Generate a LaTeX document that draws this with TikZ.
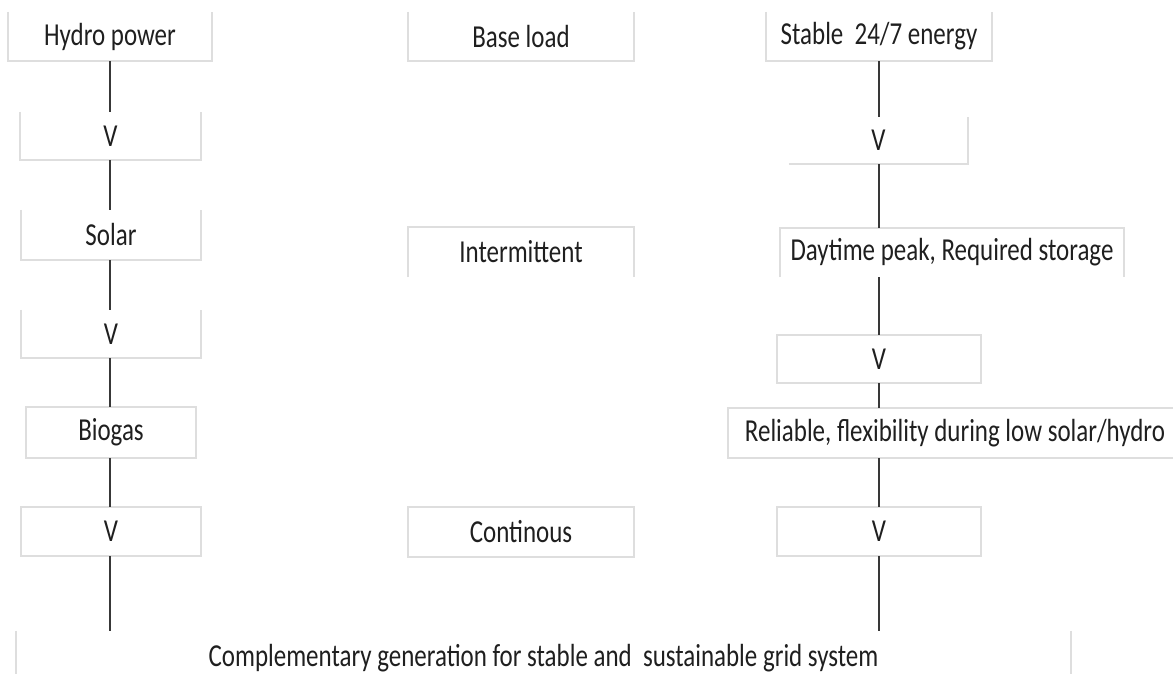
\documentclass[tikz,border=0pt]{standalone}
\usepackage{fontspec}
\setmainfont[FakeStretch=0.78]{Carlito}
\begin{document}
\begin{tikzpicture}[x=1pt,y=-1pt,
  box/.style={draw=none,inner sep=0pt,text=black!88,font=\fontsize{32}{36}\selectfont},
  edge/.style={draw=black!13,line width=1.6pt},
  link/.style={draw=black!78,line width=1.8pt}]
\useasboundingbox (0,0) rectangle (1173,674);
% left column
\node[box,minimum width=204pt,minimum height=49pt] (hydro) at (110,36.5) {Hydro power};
\node[box,minimum width=181pt,minimum height=48pt] (v1) at (110.5,136) {V};
\node[box,minimum width=180pt,minimum height=50pt] (solar) at (111,235) {Solar};
\node[box,minimum width=180pt,minimum height=48pt] (v2) at (111,334) {V};
\node[box,minimum width=170pt,minimum height=51pt] (biogas) at (111,432.5) {Biogas};
\node[box,minimum width=180pt,minimum height=49pt] (v3) at (111,531.5) {V};
% middle column
\node[box,minimum width=226pt,minimum height=49pt] (base) at (521,36.5) {Base load};
\node[box,minimum width=226pt,minimum height=50pt] (inter) at (521,252) {Intermittent};
\node[box,minimum width=226pt,minimum height=50pt] (cont) at (521,532) {Continous};
% right column
\node[box,minimum width=226pt,minimum height=49pt] (stable) at (879,36.5) {Stable\ \ 24/7 energy};
\node[box,minimum width=179pt,minimum height=47pt] (vr1) at (878.5,140.5) {V};
\node[box,minimum width=344pt,minimum height=49pt] (day) at (952,252.5) {Daytime peak, Required storage};
\node[box,minimum width=204pt,minimum height=48pt] (vr2) at (879,359) {V};
\node[box,minimum width=454pt,minimum height=50pt] (rel) at (955,433) {Reliable, flexibility during low solar/hydro};
\node[box,minimum width=204pt,minimum height=49pt] (vr3) at (879,531.5) {V};
% bottom
\node[box,minimum width=1055pt,minimum height=54pt] (grid) at (543.5,658) {Complementary generation for stable and\ \ sustainable grid system};
% box edges
\draw[edge] (hydro.north west) -- (hydro.south west) -- (hydro.south east) -- (hydro.north east);
\draw[edge] (v1.north west) -- (v1.south west) -- (v1.south east) -- (v1.north east);
\draw[edge] (solar.north west) -- (solar.south west) -- (solar.south east) -- (solar.north east);
\draw[edge] (v2.north west) -- (v2.south west) -- (v2.south east) -- (v2.north east);
\draw[edge] (biogas.north west) rectangle (biogas.south east);
\draw[edge] (v3.north west) rectangle (v3.south east);
\draw[edge] (base.north west) -- (base.south west) -- (base.south east) -- (base.north east);
\draw[edge] (inter.south west) -- (inter.north west) -- (inter.north east) -- (inter.south east);
\draw[edge] (cont.north west) rectangle (cont.south east);
\draw[edge] (stable.north west) -- (stable.south west) -- (stable.south east) -- (stable.north east);
\draw[edge] (vr1.south west) -- (vr1.south east) -- (vr1.north east);
\draw[edge] (day.south west) -- (day.north west) -- (day.north east) -- (day.south east);
\draw[edge] (vr2.north west) rectangle (vr2.south east);
\draw[edge] (rel.north west) rectangle (rel.south east);
\draw[edge] (vr3.north west) rectangle (vr3.south east);
\draw[edge] (grid.north west) -- (grid.south west);
\draw[edge] (grid.north east) -- (grid.south east);
% connectors
\draw[link] (hydro.south) -- (hydro.south |- v1.north);
\draw[link] (hydro.south |- v1.south) -- (hydro.south |- solar.north);
\draw[link] (hydro.south |- solar.south) -- (hydro.south |- v2.north);
\draw[link] (hydro.south |- v2.south) -- (hydro.south |- biogas.north);
\draw[link] (hydro.south |- biogas.south) -- (hydro.south |- v3.north);
\draw[link] (hydro.south |- v3.south) -- (hydro.south |- grid.north);
\draw[link] (vr2.south |- stable.south) -- (vr2.south |- vr1.north);
\draw[link] (vr2.south |- vr1.south) -- (vr2.south |- day.north);
\draw[link] (vr2.south |- day.south) -- (vr2.north);
\draw[link] (vr2.south) -- (vr2.south |- rel.north);
\draw[link] (vr2.south |- rel.south) -- (vr3.north);
\draw[link] (vr3.south) -- (vr3.south |- grid.north);
\end{tikzpicture}
\end{document}
